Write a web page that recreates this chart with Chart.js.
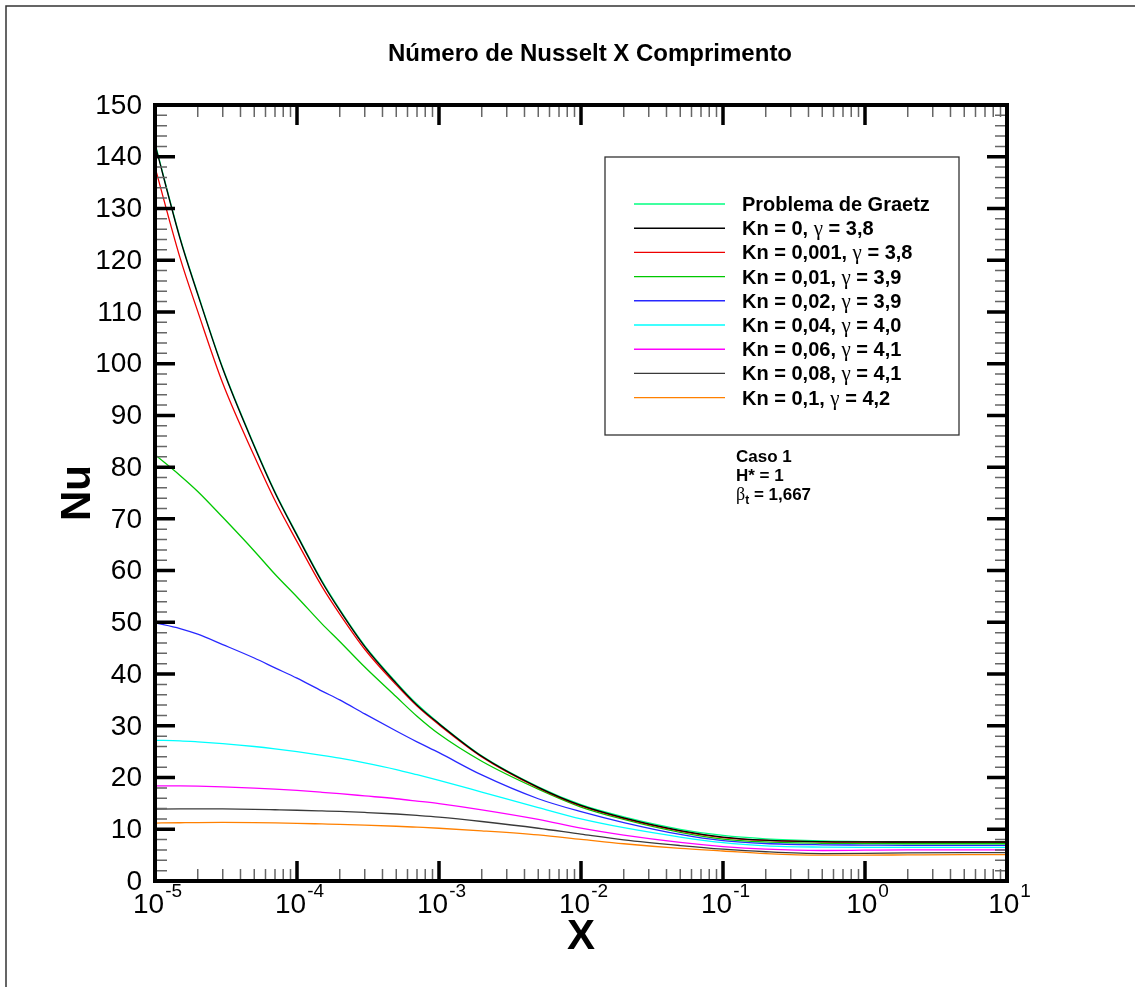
<!DOCTYPE html>
<html>
<head>
<meta charset="utf-8">
<script src="https://cdn.jsdelivr.net/npm/chart.js@4.4.1/dist/chart.umd.min.js"></script>
<style>
  html, body { margin: 0; padding: 0; background: #fff; }
  canvas { display: block; }
</style>
</head>
<body>
<canvas id="nu-chart" width="1135" height="987"></canvas>
<script>
// axial position X (log scale) shared by every curve
const xValues = [1e-5, 1.5e-5, 2e-5, 3e-5, 5e-5, 7e-5, 1e-4, 1.5e-4, 2e-4, 3e-4, 5e-4, 7e-4,
  1e-3, 2e-3, 5e-3, 1e-2, 2e-2, 5e-2, 0.1, 0.2, 0.5, 1, 2, 5, 10];

const nuGraetz = [142.6, 124.4, 113.6, 99.2, 84.25, 75.25, 67.0, 58.0, 52.5, 45.5, 38.4, 34.2,
  30.5, 24.2, 18.2, 14.75, 12.4, 10.0, 8.8, 8.15, 7.75, 7.62, 7.58, 7.56, 7.55];
const nuKn0 = [142.4, 124.2, 113.4, 99.0, 84.05, 75.05, 66.8, 57.8, 52.3, 45.3, 38.2, 34.0,
  30.4, 24.1, 18.1, 14.6, 12.2, 9.75, 8.5, 7.9, 7.6, 7.55, 7.54, 7.54, 7.54];
const nuKn0001 = [138, 120.5, 110.1, 96.2, 82.15, 73.55, 65.6, 56.9, 51.6, 44.8, 37.9, 33.8,
  30.2, 24.0, 18.0, 14.5, 12.1, 9.65, 8.4, 7.85, 7.57, 7.52, 7.5, 7.5, 7.5];
const nuKn001 = [82.4, 78.4, 75.3, 70.3, 63.8, 59.3, 54.9, 49.7, 46.3, 41.35, 35.6, 31.85,
  28.4, 23.15, 17.75, 14.3, 11.9, 9.4, 8.1, 7.55, 7.3, 7.25, 7.2, 7.2, 7.2];
const nuKn002 = [49.9, 48.8, 47.7, 45.7, 43.1, 41.2, 39.2, 36.7, 35.0, 32.3, 29.0, 26.9,
  24.8, 20.5, 15.9, 13.4, 11.3, 9.0, 7.8, 7.25, 7.0, 6.95, 6.9, 6.9, 6.9];
const nuKn004 = [27.2, 27.1, 26.9, 26.55, 26.0, 25.55, 25.0, 24.3, 23.75, 22.85, 21.55, 20.55,
  19.45, 17.2, 14.2, 12.0, 10.3, 8.5, 7.4, 6.8, 6.55, 6.5, 6.5, 6.5, 6.5];
const nuKn006 = [18.4, 18.38, 18.33, 18.2, 17.95, 17.75, 17.5, 17.15, 16.88, 16.45, 15.9, 15.45,
  14.95, 13.75, 11.9, 10.2, 8.85, 7.45, 6.65, 6.15, 5.9, 5.95, 6.0, 6.0, 6.0];
const nuKn008 = [13.9, 13.93, 13.95, 13.93, 13.85, 13.77, 13.68, 13.55, 13.45, 13.25, 12.95, 12.68,
  12.35, 11.5, 10.2, 9.05, 7.95, 6.85, 6.15, 5.65, 5.3, 5.35, 5.45, 5.5, 5.5];
const nuKn01 = [11.2, 11.26, 11.3, 11.32, 11.28, 11.22, 11.14, 11.03, 10.95, 10.8, 10.58, 10.4,
  10.2, 9.7, 8.9, 8.05, 7.2, 6.3, 5.8, 5.3, 5.0, 5.0, 5.05, 5.1, 5.1];

const seriesLabels = ['Problema de Graetz', 'Kn = 0, γ = 3,8', 'Kn = 0,001, γ = 3,8',
  'Kn = 0,01, γ = 3,9', 'Kn = 0,02, γ = 3,9', 'Kn = 0,04, γ = 4,0', 'Kn = 0,06, γ = 4,1',
  'Kn = 0,08, γ = 4,1', 'Kn = 0,1, γ = 4,2'];
const seriesValues = [nuGraetz, nuKn0, nuKn0001, nuKn001, nuKn002, nuKn004, nuKn006, nuKn008, nuKn01];
const seriesColors = ['#00ff80', '#000000', '#ee0000', '#00c800', '#2828ff', '#00ffff',
  '#ff00ff', '#3a3a3a', '#ff8000'];

const yTickValues = [0, 10, 20, 30, 40, 50, 60, 70, 80, 90, 100, 110, 120, 130, 140, 150];
const xTickExponents = [-5, -4, -3, -2, -1, 0, 1];

const SANS = '"Liberation Sans", Arial, Helvetica, sans-serif';
const SERIF = '"Liberation Serif", "DejaVu Serif", serif';

// text with γ / β drawn in a serif face, like a Symbol font
function drawMixed(ctx, text, x, y, size) {
  let cx = x;
  for (const ch of text.split(/([γβ])/)) {
    if (!ch) continue;
    ctx.font = /[γβ]/.test(ch) ? `${size + 1}px ${SERIF}` : `bold ${size}px ${SANS}`;
    ctx.fillText(ch, cx, y);
    cx += ctx.measureText(ch).width;
  }
  return cx;
}

const decorations = {
  id: 'decorations',
  afterDraw(chart) {
    const { ctx, chartArea: a, scales: { x, y } } = chart;
    ctx.save();

    // page frame (left and top edges)
    ctx.strokeStyle = '#333';
    ctx.lineWidth = 1.5;
    ctx.beginPath();
    ctx.moveTo(6, 987);
    ctx.lineTo(6, 6);
    ctx.lineTo(1135, 6);
    ctx.stroke();

    // minor and major ticks on all four sides, pointing inward
    ctx.lineCap = 'butt';
    for (let v = 0; v <= 150; v += 2) {
      const py = y.getPixelForValue(v);
      const major = v % 10 === 0;
      const len = major ? 20 : 12;
      ctx.strokeStyle = major ? '#000' : '#666';
      ctx.lineWidth = major ? 3.5 : 1.5;
      ctx.beginPath();
      ctx.moveTo(a.left, py); ctx.lineTo(a.left + len, py);
      ctx.moveTo(a.right, py); ctx.lineTo(a.right - len, py);
      ctx.stroke();
    }
    for (let e = -5; e <= 0; e++) {
      for (let k = 1; k <= 9; k++) {
        const px = x.getPixelForValue(k * Math.pow(10, e));
        const major = k === 1;
        const len = major ? 20 : 12;
        ctx.strokeStyle = major ? '#000' : '#666';
        ctx.lineWidth = major ? 3.5 : 1.5;
        ctx.beginPath();
        ctx.moveTo(px, a.bottom); ctx.lineTo(px, a.bottom - len);
        ctx.moveTo(px, a.top); ctx.lineTo(px, a.top + len);
        ctx.stroke();
      }
    }

    // axis box
    ctx.strokeStyle = '#000';
    ctx.lineWidth = 4;
    ctx.strokeRect(a.left, a.top, a.right - a.left, a.bottom - a.top);

    // y tick labels
    ctx.fillStyle = '#000';
    ctx.font = `28px ${SANS}`;
    ctx.textAlign = 'right';
    ctx.textBaseline = 'middle';
    for (const v of yTickValues) {
      ctx.fillText(String(v), a.left - 13, y.getPixelForValue(v) + 1);
    }

    // x tick labels as powers of ten
    ctx.textBaseline = 'alphabetic';
    ctx.textAlign = 'left';
    for (const e of xTickExponents) {
      const px = x.getPixelForValue(Math.pow(10, e));
      ctx.font = `28px ${SANS}`;
      const wBase = ctx.measureText('10').width;
      ctx.font = `19px ${SANS}`;
      const sup = String(e);
      const wSup = ctx.measureText(sup).width;
      const left = px - (wBase + wSup) / 2 + 2;
      ctx.font = `28px ${SANS}`;
      ctx.fillText('10', left, a.bottom + 32);
      ctx.font = `19px ${SANS}`;
      ctx.fillText(sup, left + wBase + 1, a.bottom + 16);
    }

    // title and axis titles
    ctx.textAlign = 'center';
    ctx.font = `bold 24px ${SANS}`;
    ctx.fillText('Número de Nusselt X Comprimento', (a.left + a.right) / 2 + 9, 61);
    ctx.font = `bold 42px ${SANS}`;
    ctx.fillText('X', (a.left + a.right) / 2, a.bottom + 68);
    ctx.save();
    ctx.translate(90, (a.top + a.bottom) / 2);
    ctx.rotate(-Math.PI / 2);
    ctx.fillText('Nu', 0, 0);
    ctx.restore();

    // legend box
    ctx.strokeStyle = '#333';
    ctx.lineWidth = 1.3;
    ctx.fillStyle = '#fff';
    ctx.fillRect(605, 157, 354, 278);
    ctx.strokeRect(605, 157, 354, 278);
    ctx.textAlign = 'left';
    chart.data.datasets.forEach((ds, i) => {
      const ly = 204 + i * 24.2;
      ctx.strokeStyle = ds.borderColor;
      ctx.lineWidth = 1.4;
      ctx.beginPath();
      ctx.moveTo(634, ly); ctx.lineTo(725, ly);
      ctx.stroke();
      ctx.fillStyle = '#000';
      drawMixed(ctx, ds.label, 742, ly + 7, 20);
    });

    // case annotation
    ctx.fillStyle = '#000';
    ctx.font = `bold 17px ${SANS}`;
    ctx.fillText('Caso 1', 736, 462);
    ctx.fillText('H* = 1', 736, 481);
    ctx.font = `18px ${SERIF}`;
    ctx.fillText('β', 736, 500);
    let bx = 736 + ctx.measureText('β').width;
    ctx.font = `bold 12px ${SANS}`;
    ctx.fillText('t', bx, 504);
    bx += ctx.measureText('t').width;
    ctx.font = `bold 17px ${SANS}`;
    ctx.fillText(' = 1,667', bx, 500);

    ctx.restore();
  }
};

new Chart(document.getElementById('nu-chart'), {
  type: 'line',
  data: {
    datasets: seriesValues.map((vals, i) => ({
      label: seriesLabels[i],
      data: xValues.map((xv, j) => ({ x: xv, y: vals[j] })),
      borderColor: seriesColors[i],
      backgroundColor: seriesColors[i],
      borderWidth: 1.3,
      pointRadius: 0,
      cubicInterpolationMode: 'monotone',
      fill: false,
      order: i === 0 ? 1 : 0,
    })),
  },
  options: {
    responsive: false,
    animation: false,
    layout: { padding: { left: 155, top: 105, right: 128, bottom: 106 } },
    plugins: { legend: { display: false }, title: { display: false }, tooltip: { enabled: false } },
    scales: {
      x: { type: 'logarithmic', min: 1e-5, max: 10, display: false },
      y: { type: 'linear', min: 0, max: 150, display: false },
    },
  },
  plugins: [decorations],
});
</script>
</body>
</html>
